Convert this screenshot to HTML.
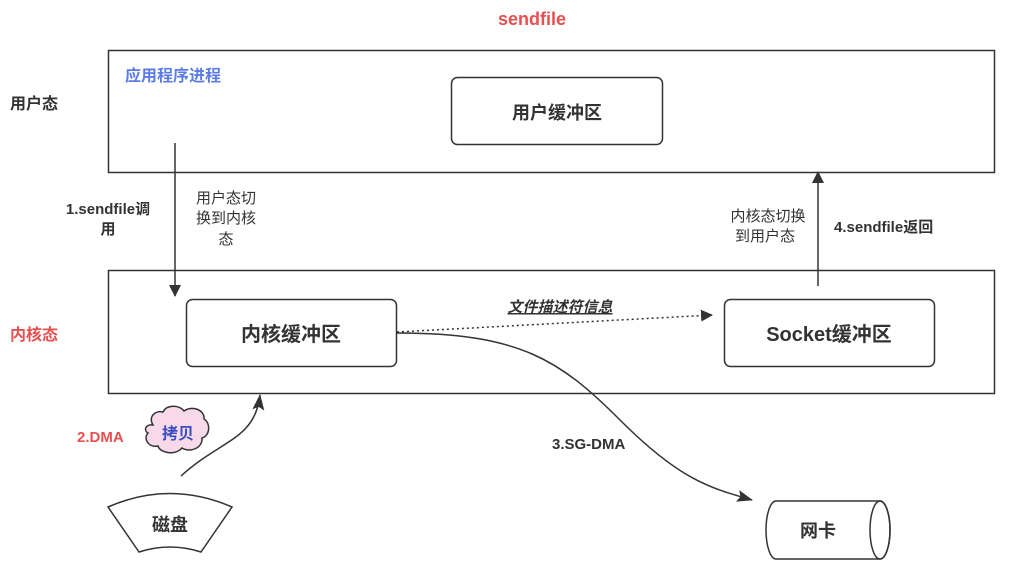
<!DOCTYPE html>
<html><head><meta charset="utf-8"><style>
html,body{margin:0;padding:0;background:#fff}
svg text{font-family:"Liberation Sans","Noto Sans CJK SC",sans-serif}
</style></head><body>
<svg width="1023" height="577" viewBox="0 0 1023 577" xmlns="http://www.w3.org/2000/svg">
<defs>
<marker id="ah" markerWidth="12" markerHeight="12" refX="11" refY="6" orient="auto" markerUnits="userSpaceOnUse"><path d="M0,0 L12,6 L0,12 Z" fill="#333"/></marker>
<marker id="ahb" markerWidth="16" markerHeight="12" refX="15" refY="6" orient="auto" markerUnits="userSpaceOnUse"><path d="M0,0 L16,6 L0,12 L3,6 Z" fill="#333"/></marker>
</defs>
<text x="532" y="25" text-anchor="middle" font-size="18" font-weight="bold" fill="#e85050">sendfile</text>
<rect x="108.5" y="50.5" width="886" height="122" fill="#fff" stroke="#333" stroke-width="1.5"/>
<text x="125" y="81" font-size="16" font-weight="bold" fill="#5b7be6">应用程序进程</text>
<rect x="451.5" y="77.5" width="211" height="67" rx="6" fill="#fff" stroke="#333" stroke-width="1.5"/>
<text x="557" y="119" text-anchor="middle" font-size="18" font-weight="bold" fill="#333">用户缓冲区</text>
<text x="10" y="109" font-size="16" font-weight="bold" fill="#333">用户态</text>
<rect x="108.5" y="270.5" width="886" height="123" fill="#fff" stroke="#333" stroke-width="1.5"/>
<text x="10" y="340" font-size="16" font-weight="bold" fill="#e85050">内核态</text>
<rect x="186.5" y="299.5" width="210" height="67" rx="6" fill="#fff" stroke="#333" stroke-width="1.5"/>
<text x="291" y="341" text-anchor="middle" font-size="20" font-weight="bold" fill="#333">内核缓冲区</text>
<rect x="724.5" y="299.5" width="210" height="67" rx="6" fill="#fff" stroke="#333" stroke-width="1.5"/>
<text x="829" y="341" text-anchor="middle" font-size="20" font-weight="bold" fill="#333">Socket缓冲区</text>
<line x1="175" y1="143" x2="175" y2="296" stroke="#333" stroke-width="1.5" marker-end="url(#ah)"/>
<text x="108" y="214" text-anchor="middle" font-size="15" font-weight="bold" fill="#333">1.sendfile调</text>
<text x="108" y="234" text-anchor="middle" font-size="15" font-weight="bold" fill="#333">用</text>
<text x="226" y="203" text-anchor="middle" font-size="15" fill="#333">用户态切</text>
<text x="226" y="223" text-anchor="middle" font-size="15" fill="#333">换到内核</text>
<text x="226" y="244" text-anchor="middle" font-size="15" fill="#333">态</text>
<line x1="818" y1="286" x2="818" y2="172" stroke="#333" stroke-width="1.5" marker-end="url(#ah)"/>
<text x="768" y="221" text-anchor="middle" font-size="15" fill="#333">内核态切换</text>
<text x="765" y="241" text-anchor="middle" font-size="15" fill="#333">到用户态</text>
<text x="834" y="232" font-size="15" font-weight="bold" fill="#333">4.sendfile返回</text>
<path d="M397,332 L712,315" stroke="#333" stroke-width="1.5" stroke-dasharray="2,3" fill="none" marker-end="url(#ah)"/>
<text x="560" y="312" text-anchor="middle" font-size="15" font-weight="bold" font-style="italic" fill="#333" text-decoration="underline">文件描述符信息</text>
<path d="M397,333 C520,333 560,360 620,420 C680,480 710,488 752,500" stroke="#333" stroke-width="1.5" fill="none" marker-end="url(#ahb)"/>
<text x="552" y="449" font-size="15" font-weight="bold" fill="#333">3.SG-DMA</text>
<path d="M181,476 C220,440 255,440 260,395" stroke="#333" stroke-width="1.5" fill="none" marker-end="url(#ahb)"/>
<text x="77" y="442" font-size="15" font-weight="bold" fill="#e85050">2.DMA</text>
<path d="M153,425 C148,417 155,410 163,412 C167,404 180,405 184,411 C192,405 205,410 204,419 C211,423 210,436 202,438 C203,448 190,453 182,448 C175,456 160,453 158,446 C148,448 143,438 148,433 C143,430 146,424 153,425 Z" fill="#f8d9ea" stroke="#333" stroke-width="1.5"/>
<text x="178" y="439" text-anchor="middle" font-size="16" font-weight="bold" fill="#3a4fbf">拷贝</text>
<path d="M108,507 Q170,480 232,507 L201,552 Q170,542 139,552 Z" fill="#fff" stroke="#333" stroke-width="1.5"/>
<text x="170" y="531" text-anchor="middle" font-size="18" font-weight="bold" fill="#333">磁盘</text>
<path d="M776,501 L880,501 A10,29 0 0 1 880,559 L776,559 A10,29 0 0 1 776,501 Z" fill="#fff" stroke="#333" stroke-width="1.5"/>
<ellipse cx="880" cy="530" rx="10" ry="29" fill="none" stroke="#333" stroke-width="1.5"/>
<text x="818" y="537" text-anchor="middle" font-size="18" font-weight="bold" fill="#333">网卡</text>
</svg>
</body></html>
